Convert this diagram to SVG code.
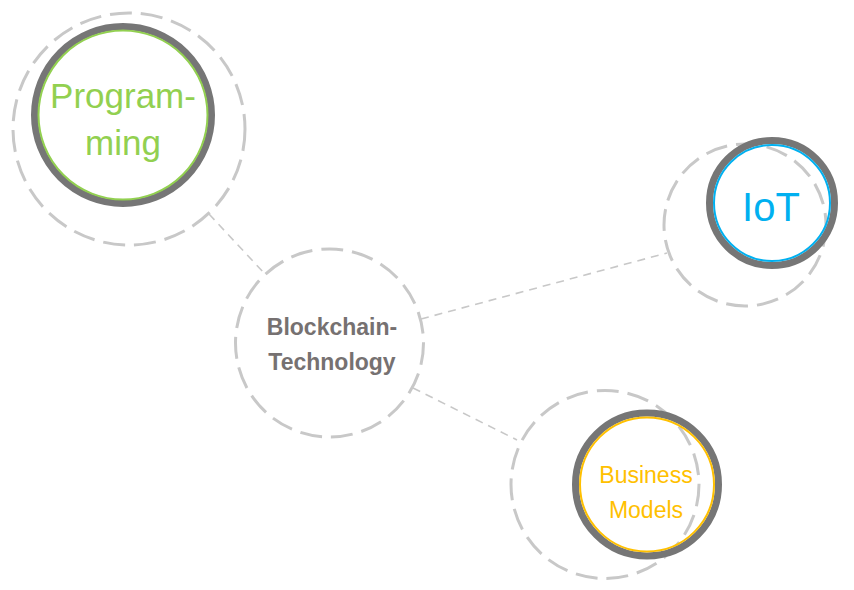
<svg xmlns="http://www.w3.org/2000/svg" width="854" height="590" viewBox="0 0 854 590">
<style>
.halo{fill:none;stroke:#C8C8C8;stroke-width:3;stroke-dasharray:22 9}
.ring{fill:none;stroke:#767676;stroke-width:7}
.conn{stroke:#C8C8C8;stroke-width:1.6;stroke-dasharray:8 6;fill:none}
text{font-family:"Liberation Sans",Arial,sans-serif;text-anchor:middle}
</style>
<rect width="854" height="590" fill="#FFFFFF"/>
<g id="connectors">
<line class="conn" x1="209" y1="214" x2="264" y2="273"/>
<line class="conn" x1="421" y1="319" x2="667" y2="253"/>
<line class="conn" x1="413" y1="388" x2="517" y2="440"/>
</g>
<g id="blockchain">
<circle class="halo" cx="329.5" cy="343" r="94"/>
<text x="332" y="335" font-size="23" font-weight="bold" fill="#767171">Blockchain-</text>
<text x="332" y="370" font-size="23" font-weight="bold" fill="#767171">Technology</text>
</g>
<g id="programming">
<circle class="halo" cx="129" cy="129" r="116"/>
<circle class="ring" cx="123" cy="115" r="88.5"/>
<circle cx="123" cy="115" r="84.5" fill="none" stroke="#92D050" stroke-width="2"/>
<text x="123" y="108" font-size="35" fill="#92D050">Program-</text>
<text x="123" y="155" font-size="35" fill="#92D050">ming</text>
</g>
<g id="iot">
<circle class="halo" cx="745" cy="225" r="81"/>
<circle class="ring" cx="772" cy="203" r="62.5"/>
<circle cx="772" cy="203" r="58" fill="none" stroke="#00B0F0" stroke-width="2"/>
<text x="771" y="221" font-size="40" fill="#00B0F0">IoT</text>
</g>
<g id="business">
<circle class="halo" cx="605" cy="484.5" r="94"/>
<circle class="ring" cx="647" cy="484.5" r="71.5"/>
<circle cx="647" cy="484.5" r="67" fill="none" stroke="#FFC000" stroke-width="2"/>
<text x="646" y="483" font-size="23" fill="#FFC000">Business</text>
<text x="646" y="518" font-size="23" fill="#FFC000">Models</text>
</g>
</svg>
